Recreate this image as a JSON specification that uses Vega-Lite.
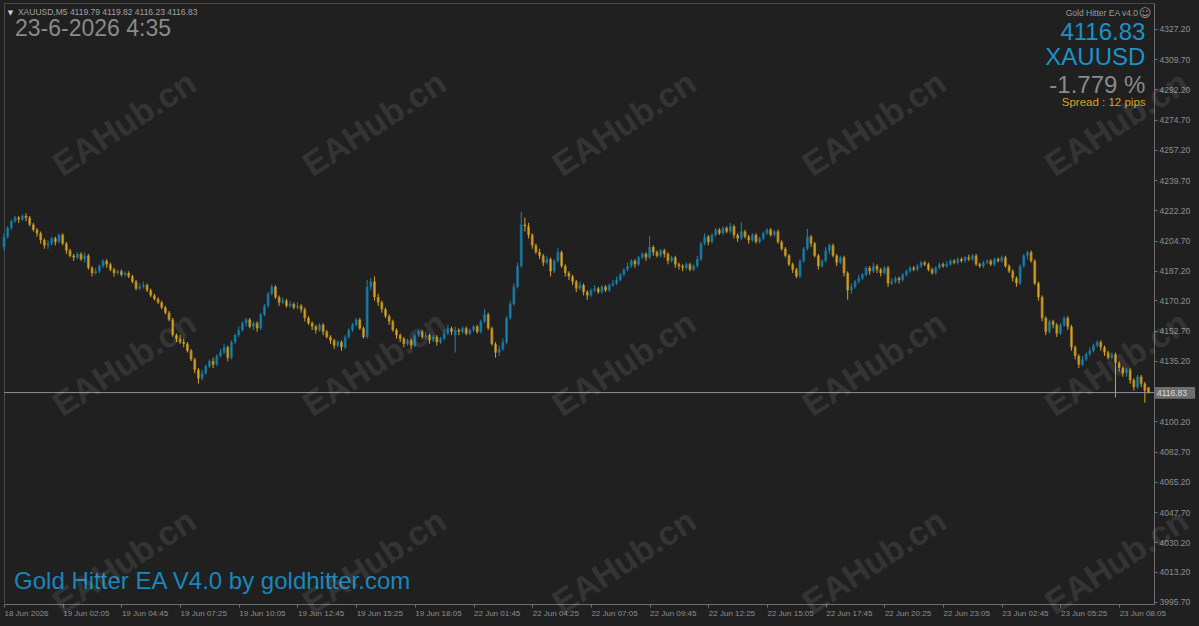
{
"$schema":"https://vega.github.io/schema/vega-lite/v6.json",
"width":1150,"height":601,
"autosize":{"type":"none"},
"padding":{"left":4,"top":3,"right":45,"bottom":22},
"background":"#202020",
"config":{"view":{"stroke":"#4a4a4a","fill":"#202020"},"font":"Liberation Sans","text":{"font":"Liberation Sans"},"axis":{"labelOverlap":false,"labelBound":false},"scale":{"continuousPadding":0}},
"data":{"values":[
{"i":0,"o":4201,"h":4209,"l":4199,"c":4207},{"i":2,"o":4207,"h":4213,"l":4206,"c":4212},{"i":4,"o":4212,"h":4217,"l":4211,"c":4216},{"i":6,"o":4216,"h":4219,"l":4215,"c":4218},{"i":8,"o":4218,"h":4219,"l":4215,"c":4217},{"i":10,"o":4217,"h":4220,"l":4216,"c":4219},{"i":12,"o":4219,"h":4220.5,"l":4216,"c":4218},{"i":14,"o":4218,"h":4219,"l":4213,"c":4214},{"i":16,"o":4214,"h":4215,"l":4210,"c":4211},{"i":18,"o":4211,"h":4212,"l":4207,"c":4209},
{"i":20,"o":4209,"h":4210,"l":4203,"c":4205},{"i":22,"o":4205,"h":4206,"l":4200,"c":4202},{"i":24,"o":4202,"h":4205,"l":4200,"c":4203},{"i":26,"o":4203,"h":4207,"l":4202,"c":4206},{"i":28,"o":4206,"h":4207,"l":4202,"c":4204},{"i":30,"o":4204,"h":4209,"l":4203,"c":4208},{"i":32,"o":4208,"h":4209,"l":4202,"c":4203},{"i":34,"o":4203,"h":4204,"l":4197,"c":4199},{"i":36,"o":4199,"h":4200,"l":4195,"c":4196},{"i":38,"o":4196,"h":4197,"l":4193,"c":4195},
{"i":40,"o":4195,"h":4198,"l":4194,"c":4197},{"i":42,"o":4197,"h":4198,"l":4193,"c":4194},{"i":44,"o":4194,"h":4198,"l":4192,"c":4196},{"i":46,"o":4196,"h":4197,"l":4188,"c":4189},{"i":48,"o":4189,"h":4190,"l":4184,"c":4186},{"i":50,"o":4186,"h":4189,"l":4185,"c":4187},{"i":52,"o":4187,"h":4191,"l":4186,"c":4190},{"i":54,"o":4190,"h":4194,"l":4189,"c":4193},{"i":56,"o":4193,"h":4194,"l":4189,"c":4191},{"i":58,"o":4191,"h":4192,"l":4187,"c":4188},
{"i":60,"o":4188,"h":4189,"l":4184,"c":4186},{"i":62,"o":4186,"h":4188,"l":4185,"c":4187},{"i":64,"o":4187,"h":4188,"l":4184,"c":4185},{"i":66,"o":4185,"h":4187,"l":4184,"c":4186},{"i":68,"o":4186,"h":4187,"l":4183,"c":4184},{"i":70,"o":4184,"h":4185,"l":4180,"c":4181},{"i":72,"o":4181,"h":4182,"l":4176,"c":4177},{"i":74,"o":4177,"h":4180,"l":4176,"c":4178},{"i":76,"o":4178,"h":4181,"l":4177,"c":4179},{"i":78,"o":4179,"h":4180,"l":4175,"c":4176},
{"i":80,"o":4176,"h":4177,"l":4172,"c":4173},{"i":82,"o":4173,"h":4174,"l":4170,"c":4171},{"i":84,"o":4171,"h":4172,"l":4168,"c":4169},{"i":86,"o":4169,"h":4170,"l":4165,"c":4166},{"i":88,"o":4166,"h":4167,"l":4162,"c":4163},{"i":90,"o":4163,"h":4164,"l":4158,"c":4159},{"i":92,"o":4159,"h":4160,"l":4149,"c":4150},{"i":94,"o":4150,"h":4151,"l":4146,"c":4148},{"i":96,"o":4148,"h":4150,"l":4145,"c":4146},{"i":98,"o":4146,"h":4148,"l":4143,"c":4145},
{"i":100,"o":4145,"h":4146,"l":4140,"c":4141},{"i":102,"o":4141,"h":4142,"l":4135,"c":4136},{"i":104,"o":4136,"h":4137,"l":4128,"c":4130},{"i":106,"o":4130,"h":4131,"l":4122,"c":4125},{"i":108,"o":4125,"h":4130,"l":4124,"c":4128},{"i":110,"o":4128,"h":4133,"l":4127,"c":4132},{"i":112,"o":4132,"h":4136,"l":4131,"c":4135},{"i":114,"o":4135,"h":4137,"l":4131,"c":4133},{"i":116,"o":4133,"h":4139,"l":4132,"c":4138},{"i":118,"o":4138,"h":4142,"l":4137,"c":4140},
{"i":120,"o":4140,"h":4145,"l":4139,"c":4143},{"i":122,"o":4143,"h":4144,"l":4135,"c":4137},{"i":124,"o":4137,"h":4147,"l":4136,"c":4146},{"i":126,"o":4146,"h":4151,"l":4145,"c":4150},{"i":128,"o":4150,"h":4155,"l":4149,"c":4153},{"i":130,"o":4153,"h":4158,"l":4152,"c":4157},{"i":132,"o":4157,"h":4160,"l":4155,"c":4159},{"i":134,"o":4159,"h":4160,"l":4154,"c":4155},{"i":136,"o":4155,"h":4158,"l":4153,"c":4157},{"i":138,"o":4157,"h":4158,"l":4152,"c":4154},
{"i":140,"o":4154,"h":4163,"l":4153,"c":4162},{"i":142,"o":4162,"h":4168,"l":4161,"c":4167},{"i":144,"o":4167,"h":4175,"l":4166,"c":4174},{"i":146,"o":4174,"h":4179.5,"l":4173,"c":4178},{"i":148,"o":4178,"h":4179,"l":4171,"c":4172},{"i":150,"o":4172,"h":4173,"l":4167,"c":4169},{"i":152,"o":4169,"h":4172,"l":4168,"c":4170},{"i":154,"o":4170,"h":4171,"l":4166,"c":4167},{"i":156,"o":4167,"h":4170,"l":4166,"c":4168},{"i":158,"o":4168,"h":4169,"l":4165,"c":4166},
{"i":160,"o":4166,"h":4169,"l":4165,"c":4167},{"i":162,"o":4167,"h":4168,"l":4163,"c":4165},{"i":164,"o":4165,"h":4166,"l":4158,"c":4160},{"i":166,"o":4160,"h":4161,"l":4156,"c":4157},{"i":168,"o":4157,"h":4158,"l":4153,"c":4155},{"i":170,"o":4155,"h":4156,"l":4151,"c":4153},{"i":172,"o":4153,"h":4157,"l":4152,"c":4156},{"i":174,"o":4156,"h":4157,"l":4150,"c":4152},{"i":176,"o":4152,"h":4153,"l":4148,"c":4149},{"i":178,"o":4149,"h":4150,"l":4145,"c":4147},
{"i":180,"o":4147,"h":4148,"l":4142,"c":4144},{"i":182,"o":4144,"h":4147,"l":4143,"c":4146},{"i":184,"o":4146,"h":4147,"l":4141,"c":4143},{"i":186,"o":4143,"h":4150,"l":4142,"c":4149},{"i":188,"o":4149,"h":4154,"l":4148,"c":4153},{"i":190,"o":4153,"h":4157,"l":4152,"c":4156},{"i":192,"o":4156,"h":4160,"l":4155,"c":4159},{"i":194,"o":4159,"h":4160,"l":4153,"c":4154},{"i":196,"o":4154,"h":4155,"l":4148,"c":4149},{"i":198,"o":4149,"h":4182,"l":4148,"c":4178},
{"i":200,"o":4178,"h":4183,"l":4176,"c":4181},{"i":202,"o":4181,"h":4184,"l":4170,"c":4172},{"i":204,"o":4172,"h":4174,"l":4167,"c":4169},{"i":206,"o":4169,"h":4170,"l":4163,"c":4165},{"i":208,"o":4165,"h":4166,"l":4160,"c":4161},{"i":210,"o":4161,"h":4162,"l":4156,"c":4158},{"i":212,"o":4158,"h":4159,"l":4152,"c":4153},{"i":214,"o":4153,"h":4154,"l":4148,"c":4150},{"i":216,"o":4150,"h":4151,"l":4146,"c":4148},{"i":218,"o":4148,"h":4149,"l":4143,"c":4145},
{"i":220,"o":4145,"h":4148,"l":4144,"c":4147},{"i":222,"o":4147,"h":4148,"l":4142,"c":4144},{"i":224,"o":4144,"h":4151,"l":4143,"c":4150},{"i":226,"o":4150,"h":4153,"l":4149,"c":4152},{"i":228,"o":4152,"h":4153,"l":4148,"c":4149},{"i":230,"o":4149,"h":4152,"l":4148,"c":4150},{"i":232,"o":4150,"h":4151,"l":4145,"c":4147},{"i":234,"o":4147,"h":4150,"l":4146,"c":4149},{"i":236,"o":4149,"h":4150,"l":4144,"c":4146},{"i":238,"o":4146,"h":4149,"l":4145,"c":4148},
{"i":240,"o":4148,"h":4153,"l":4147,"c":4151},{"i":242,"o":4151,"h":4156,"l":4150,"c":4154},{"i":244,"o":4154,"h":4155,"l":4150,"c":4152},{"i":246,"o":4150,"h":4155,"l":4140,"c":4153},{"i":248,"o":4153,"h":4154,"l":4150,"c":4152},{"i":250,"o":4152,"h":4155,"l":4151,"c":4154},{"i":252,"o":4154,"h":4155,"l":4150,"c":4151},{"i":254,"o":4151,"h":4154,"l":4150,"c":4153},{"i":256,"o":4153,"h":4156,"l":4152,"c":4155},{"i":258,"o":4155,"h":4156,"l":4151,"c":4152},
{"i":260,"o":4152,"h":4159,"l":4151,"c":4158},{"i":262,"o":4158,"h":4165,"l":4157,"c":4162},{"i":264,"o":4162,"h":4163,"l":4153,"c":4154},{"i":266,"o":4154,"h":4155,"l":4144,"c":4145},{"i":268,"o":4145,"h":4146,"l":4137,"c":4140},{"i":270,"o":4140,"h":4144,"l":4138,"c":4142},{"i":272,"o":4142,"h":4148,"l":4141,"c":4146},{"i":274,"o":4146,"h":4161,"l":4145,"c":4160},{"i":276,"o":4160,"h":4170,"l":4159,"c":4168},{"i":278,"o":4168,"h":4180,"l":4167,"c":4178},
{"i":280,"o":4178,"h":4192,"l":4177,"c":4190},{"i":282,"o":4190,"h":4221.5,"l":4189,"c":4214},{"i":284,"o":4214,"h":4218,"l":4210,"c":4213},{"i":286,"o":4213,"h":4215,"l":4206,"c":4208},{"i":288,"o":4208,"h":4209,"l":4200,"c":4202},{"i":290,"o":4202,"h":4203,"l":4197,"c":4198},{"i":292,"o":4198,"h":4200,"l":4194,"c":4196},{"i":294,"o":4196,"h":4197,"l":4190,"c":4192},{"i":296,"o":4192,"h":4196,"l":4191,"c":4194},{"i":298,"o":4194,"h":4195,"l":4184,"c":4187},
{"i":300,"o":4187,"h":4194,"l":4186,"c":4193},{"i":302,"o":4193,"h":4200.5,"l":4192,"c":4198},{"i":304,"o":4198,"h":4199,"l":4189,"c":4190},{"i":306,"o":4190,"h":4191,"l":4184,"c":4186},{"i":308,"o":4186,"h":4187,"l":4182,"c":4184},{"i":310,"o":4184,"h":4185,"l":4179,"c":4181},{"i":312,"o":4181,"h":4182,"l":4175,"c":4177},{"i":314,"o":4177,"h":4181,"l":4176,"c":4179},{"i":316,"o":4179,"h":4180,"l":4173,"c":4175},{"i":318,"o":4175,"h":4176,"l":4170.5,"c":4173},
{"i":320,"o":4173,"h":4177,"l":4172,"c":4176},{"i":322,"o":4176,"h":4179,"l":4175,"c":4177},{"i":324,"o":4177,"h":4178,"l":4174,"c":4175},{"i":326,"o":4175,"h":4179,"l":4174,"c":4178},{"i":328,"o":4178,"h":4179,"l":4175,"c":4176},{"i":330,"o":4176,"h":4180,"l":4175,"c":4179},{"i":332,"o":4179,"h":4182,"l":4178,"c":4180},{"i":334,"o":4180,"h":4184,"l":4179,"c":4182},{"i":336,"o":4182,"h":4186,"l":4181,"c":4185},{"i":338,"o":4185,"h":4189,"l":4184,"c":4188},
{"i":340,"o":4188,"h":4192,"l":4187,"c":4190},{"i":342,"o":4190,"h":4194,"l":4189,"c":4193},{"i":344,"o":4193,"h":4194,"l":4189,"c":4191},{"i":346,"o":4191,"h":4196,"l":4190,"c":4195},{"i":348,"o":4195,"h":4198,"l":4194,"c":4197},{"i":350,"o":4197,"h":4198,"l":4193,"c":4195},{"i":352,"o":4195,"h":4207.5,"l":4194,"c":4201},{"i":354,"o":4201,"h":4202,"l":4196,"c":4198},{"i":356,"o":4198,"h":4199,"l":4195,"c":4196},{"i":358,"o":4196,"h":4200,"l":4195,"c":4199},
{"i":360,"o":4199,"h":4200,"l":4195,"c":4197},{"i":362,"o":4197,"h":4198,"l":4191,"c":4193},{"i":364,"o":4193,"h":4196,"l":4192,"c":4195},{"i":366,"o":4195,"h":4196,"l":4189,"c":4191},{"i":368,"o":4191,"h":4192,"l":4188,"c":4190},{"i":370,"o":4190,"h":4191,"l":4187,"c":4189},{"i":372,"o":4189,"h":4192,"l":4188,"c":4191},{"i":374,"o":4191,"h":4192,"l":4187,"c":4188},{"i":376,"o":4188,"h":4191,"l":4187,"c":4190},{"i":378,"o":4190,"h":4196,"l":4189,"c":4194},
{"i":380,"o":4194,"h":4204,"l":4193,"c":4203},{"i":382,"o":4203,"h":4209,"l":4202,"c":4207},{"i":384,"o":4207,"h":4208,"l":4202,"c":4204},{"i":386,"o":4204,"h":4209,"l":4203,"c":4208},{"i":388,"o":4208,"h":4212,"l":4207,"c":4211},{"i":390,"o":4211,"h":4212,"l":4208,"c":4209},{"i":392,"o":4209,"h":4213,"l":4208,"c":4212},{"i":394,"o":4212,"h":4213,"l":4209,"c":4210},{"i":396,"o":4210,"h":4215,"l":4209,"c":4213},{"i":398,"o":4213,"h":4214,"l":4206,"c":4208},
{"i":400,"o":4208,"h":4209,"l":4204,"c":4206},{"i":402,"o":4206,"h":4215.5,"l":4205,"c":4210},{"i":404,"o":4210,"h":4211,"l":4206,"c":4207},{"i":406,"o":4207,"h":4208,"l":4203,"c":4205},{"i":408,"o":4205,"h":4209,"l":4204,"c":4208},{"i":410,"o":4208,"h":4209,"l":4203,"c":4204},{"i":412,"o":4204,"h":4207,"l":4203,"c":4206},{"i":414,"o":4206,"h":4210,"l":4205,"c":4209},{"i":416,"o":4209,"h":4212,"l":4208,"c":4211},{"i":418,"o":4211,"h":4212,"l":4207,"c":4208},
{"i":420,"o":4208,"h":4211,"l":4207,"c":4210},{"i":422,"o":4210,"h":4211,"l":4203,"c":4204},{"i":424,"o":4204,"h":4205,"l":4199,"c":4200},{"i":426,"o":4200,"h":4201,"l":4195,"c":4196},{"i":428,"o":4196,"h":4197,"l":4190,"c":4191},{"i":430,"o":4191,"h":4192,"l":4186,"c":4188},{"i":432,"o":4188,"h":4189,"l":4183,"c":4184},{"i":434,"o":4184,"h":4194,"l":4183,"c":4193},{"i":436,"o":4193,"h":4201,"l":4192,"c":4200},{"i":438,"o":4200,"h":4211.5,"l":4199,"c":4207},
{"i":440,"o":4207,"h":4208,"l":4201,"c":4203},{"i":442,"o":4203,"h":4204,"l":4195,"c":4196},{"i":444,"o":4196,"h":4197,"l":4188,"c":4190},{"i":446,"o":4190,"h":4194,"l":4189,"c":4193},{"i":448,"o":4193,"h":4201,"l":4192,"c":4199},{"i":450,"o":4199,"h":4203,"l":4197,"c":4202},{"i":452,"o":4202,"h":4203,"l":4195,"c":4196},{"i":454,"o":4196,"h":4197,"l":4190,"c":4192},{"i":456,"o":4192,"h":4196,"l":4191,"c":4195},{"i":458,"o":4195,"h":4196,"l":4184,"c":4186},
{"i":460,"o":4186,"h":4187,"l":4170.5,"c":4176},{"i":462,"o":4176,"h":4180,"l":4174,"c":4178},{"i":464,"o":4178,"h":4182,"l":4177,"c":4181},{"i":466,"o":4181,"h":4185,"l":4180,"c":4183},{"i":468,"o":4183,"h":4186,"l":4182,"c":4185},{"i":470,"o":4185,"h":4190,"l":4184,"c":4189},{"i":472,"o":4189,"h":4190,"l":4185,"c":4187},{"i":474,"o":4187,"h":4192,"l":4186,"c":4190},{"i":476,"o":4190,"h":4191,"l":4186,"c":4188},{"i":478,"o":4188,"h":4189,"l":4184,"c":4186},
{"i":480,"o":4186,"h":4190,"l":4185,"c":4189},{"i":482,"o":4189,"h":4190,"l":4178,"c":4180},{"i":484,"o":4180,"h":4183,"l":4179,"c":4181},{"i":486,"o":4181,"h":4184,"l":4180,"c":4183},{"i":488,"o":4183,"h":4184,"l":4180,"c":4182},{"i":490,"o":4182,"h":4186,"l":4181,"c":4185},{"i":492,"o":4185,"h":4188,"l":4184,"c":4187},{"i":494,"o":4187,"h":4190,"l":4186,"c":4189},{"i":496,"o":4189,"h":4190,"l":4187,"c":4188},{"i":498,"o":4188,"h":4191,"l":4187,"c":4190},
{"i":500,"o":4190,"h":4193,"l":4189,"c":4192},{"i":502,"o":4192,"h":4193,"l":4190,"c":4191},{"i":504,"o":4191,"h":4192,"l":4187,"c":4188},{"i":506,"o":4188,"h":4189,"l":4185,"c":4186},{"i":508,"o":4186,"h":4190,"l":4185,"c":4189},{"i":510,"o":4189,"h":4192,"l":4188,"c":4191},{"i":512,"o":4191,"h":4192,"l":4189,"c":4190},{"i":514,"o":4190,"h":4193,"l":4189,"c":4191},{"i":516,"o":4191,"h":4194,"l":4190,"c":4193},{"i":518,"o":4193,"h":4194,"l":4191,"c":4192},
{"i":520,"o":4192,"h":4195,"l":4191,"c":4194},{"i":522,"o":4194,"h":4195,"l":4192,"c":4193},{"i":524,"o":4193,"h":4196,"l":4192,"c":4195},{"i":526,"o":4195,"h":4196.5,"l":4193,"c":4194},{"i":528,"o":4194,"h":4197,"l":4193,"c":4196},{"i":530,"o":4196,"h":4197,"l":4190,"c":4191},{"i":532,"o":4191,"h":4192,"l":4189,"c":4190},{"i":534,"o":4190,"h":4193,"l":4189,"c":4192},{"i":536,"o":4192,"h":4194,"l":4191,"c":4193},{"i":538,"o":4193,"h":4194,"l":4190,"c":4191},
{"i":540,"o":4191,"h":4195,"l":4190,"c":4194},{"i":542,"o":4194,"h":4195,"l":4192,"c":4193},{"i":544,"o":4193,"h":4196,"l":4192,"c":4195},{"i":546,"o":4195,"h":4196,"l":4189,"c":4190},{"i":548,"o":4190,"h":4191,"l":4186,"c":4187},{"i":550,"o":4187,"h":4188,"l":4181,"c":4183},{"i":552,"o":4183,"h":4184,"l":4178,"c":4180},{"i":554,"o":4180,"h":4191,"l":4179,"c":4190},{"i":556,"o":4190,"h":4197,"l":4189,"c":4196},{"i":558,"o":4196,"h":4199,"l":4194,"c":4198},
{"i":560,"o":4198,"h":4199,"l":4192,"c":4193},{"i":562,"o":4193,"h":4194,"l":4179,"c":4180},{"i":564,"o":4180,"h":4181,"l":4170,"c":4172},{"i":566,"o":4172,"h":4173,"l":4158,"c":4160},{"i":568,"o":4160,"h":4161,"l":4150,"c":4152},{"i":570,"o":4152,"h":4159,"l":4151,"c":4158},{"i":572,"o":4158,"h":4159,"l":4154,"c":4156},{"i":574,"o":4156,"h":4157,"l":4149,"c":4151},{"i":576,"o":4151,"h":4157,"l":4150,"c":4156},{"i":578,"o":4156,"h":4161,"l":4155,"c":4160},
{"i":580,"o":4160,"h":4161,"l":4153,"c":4155},{"i":582,"o":4155,"h":4156,"l":4141,"c":4143},{"i":584,"o":4143,"h":4144,"l":4136,"c":4138},{"i":586,"o":4138,"h":4139,"l":4131,"c":4133},{"i":588,"o":4133,"h":4138,"l":4132,"c":4136},{"i":590,"o":4136,"h":4140,"l":4135,"c":4139},{"i":592,"o":4139,"h":4143,"l":4138,"c":4141},{"i":594,"o":4141,"h":4145,"l":4140,"c":4144},{"i":596,"o":4144,"h":4147,"l":4143,"c":4146},{"i":598,"o":4146,"h":4147,"l":4141,"c":4143},
{"i":600,"o":4143,"h":4144,"l":4138,"c":4140},{"i":602,"o":4140,"h":4141,"l":4136,"c":4137},{"i":604,"o":4137,"h":4140,"l":4136,"c":4139},{"i":606,"o":4139,"h":4140,"l":4114,"c":4134},{"i":608,"o":4134,"h":4135,"l":4129,"c":4131},{"i":610,"o":4131,"h":4132,"l":4126,"c":4128},{"i":612,"o":4128,"h":4131,"l":4126,"c":4130},{"i":614,"o":4130,"h":4131,"l":4122,"c":4124},{"i":616,"o":4124,"h":4125,"l":4118,"c":4120},{"i":618,"o":4120,"h":4127,"l":4119,"c":4126},
{"i":620,"o":4126,"h":4127,"l":4120,"c":4122},{"i":622,"o":4122,"h":4123,"l":4111,"c":4118},{"i":624,"o":4119.79,"h":4119.82,"l":4116.23,"c":4116.83}
]},
"layer":[
{"mark":{"type":"rule","strokeWidth":1},
 "encoding":{
  "x":{"field":"i","type":"quantitative","scale":{"domain":[0,627],"nice":false,"zero":false,"padding":0},
   "axis":{"title":null,"tickCount":60,"values":[0,32,64,96,128,160,192,224,256,288,320,352,384,416,448,480,512,544,576,608],
    "labelExpr":"['18 Jun 2026','19 Jun 02:05','19 Jun 04:45','19 Jun 07:25','19 Jun 10:05','19 Jun 12:45','19 Jun 15:25','19 Jun 18:05','22 Jun 01:45','22 Jun 04:25','22 Jun 07:05','22 Jun 09:45','22 Jun 12:25','22 Jun 15:05','22 Jun 17:45','22 Jun 20:25','22 Jun 23:05','23 Jun 02:45','23 Jun 05:25','23 Jun 08:05'][round(datum.value/32)]",
    "labelAlign":"left","labelFlush":false,"labelOverlap":false,"grid":false,"tickSize":3,"labelPadding":2,
    "domainColor":"#6e6e6e","tickColor":"#6e6e6e","labelColor":"#8e8e8e","labelFontSize":8,"labelFont":"Liberation Sans"}},
  "y":{"field":"l","type":"quantitative","scale":{"domain":[3994.5,4342.2],"nice":false,"zero":false,"padding":0},
   "axis":{"title":null,"orient":"right","tickCount":60,"values":[4327.2,4309.7,4292.2,4274.7,4257.2,4239.7,4222.2,4204.7,4187.2,4170.2,4152.7,4135.2,4100.2,4082.7,4065.2,4047.7,4030.2,4013.2,3995.7],
    "format":".2f","grid":false,"tickSize":3,"labelPadding":2,"domainColor":"#6e6e6e","tickColor":"#6e6e6e","labelColor":"#8e8e8e","labelFontSize":8.5,"labelFont":"Liberation Sans","labelOverlap":false}},
  "y2":{"field":"h"},
  "color":{"condition":{"test":"datum.c >= datum.o","value":"#1585b3"},"value":"#dba41f"}
 }},
{"mark":{"type":"bar","width":2.8,"opacity":0.7},
 "encoding":{
  "x":{"field":"i","type":"quantitative"},
  "y":{"field":"o","type":"quantitative"},
  "y2":{"field":"c"},
  "color":{"condition":{"test":"datum.c >= datum.o","value":"#1585b3"},"value":"#dba41f"}
 }},
{"data":{"values":[{}]},"mark":{"type":"rule","color":"#8a8f96","strokeWidth":1},
 "encoding":{"y":{"datum":4116.83}}},
{"data":{"values":[{}]},"mark":{"type":"rect","color":"#6f6f6f"},
 "encoding":{"x":{"datum":627.6},"x2":{"datum":649.4},"y":{"datum":4113.2},"y2":{"datum":4120.1}}},
{"data":{"values":[{}]},"mark":{"type":"text","text":"4116.83","align":"left","baseline":"middle","fontSize":8.5,"color":"#dcdcdc"},
 "encoding":{"x":{"datum":628.6},"y":{"datum":4116.7}}},
{"data":{"values":[{}]},"mark":{"type":"text","text":"▼","align":"center","baseline":"alphabetic","fontSize":7,"color":"#d0d0d0","font":"DejaVu Sans"},
 "encoding":{"x":{"datum":3.5},"y":{"datum":4335.5}}},
{"data":{"values":[{}]},"mark":{"type":"text","text":"XAUUSD,M5  4119.79 4119.82 4116.23 4116.83","align":"left","baseline":"alphabetic","fontSize":8.5,"color":"#a0a0a0"},
 "encoding":{"x":{"datum":7.6},"y":{"datum":4335.3}}},
{"data":{"values":[{}]},"mark":{"type":"text","text":"23-6-2026 4:35","align":"left","baseline":"alphabetic","fontSize":23,"color":"#8a8a8a"},
 "encoding":{"x":{"datum":6.0},"y":{"datum":4323.2}}},
{"data":{"values":[{}]},"mark":{"type":"text","text":"Gold Hitter EA  v4.0","align":"right","baseline":"alphabetic","fontSize":8.5,"color":"#9a9a9a"},
 "encoding":{"x":{"datum":618.3},"y":{"datum":4334.7}}},
{"data":{"values":[{}]},"mark":{"type":"text","text":"☺","align":"center","baseline":"middle","fontSize":12,"color":"#9a9a9a","font":"DejaVu Sans"},
 "encoding":{"x":{"datum":622.1},"y":{"datum":4336.5}}},
{"data":{"values":[{}]},"mark":{"type":"text","text":"4116.83","align":"right","baseline":"alphabetic","fontSize":24,"color":"#1b92c9"},
 "encoding":{"x":{"datum":622.3},"y":{"datum":4320.9}}},
{"data":{"values":[{}]},"mark":{"type":"text","text":"XAUUSD","align":"right","baseline":"alphabetic","fontSize":24,"color":"#1b92c9"},
 "encoding":{"x":{"datum":622.3},"y":{"datum":4306.4}}},
{"data":{"values":[{}]},"mark":{"type":"text","text":"-1.779 %","align":"right","baseline":"alphabetic","fontSize":24,"color":"#8a8a8a"},
 "encoding":{"x":{"datum":622.3},"y":{"datum":4290.2}}},
{"data":{"values":[{}]},"mark":{"type":"text","text":"Spread : 12 pips","align":"right","baseline":"alphabetic","fontSize":11.5,"color":"#d4a62a"},
 "encoding":{"x":{"datum":622.4},"y":{"datum":4282.7}}},
{"data":{"values":[{}]},"mark":{"type":"text","text":"Gold Hitter EA V4.0 by goldhitter.com","align":"left","baseline":"alphabetic","fontSize":24,"color":"#1a86bb"},
 "encoding":{"x":{"datum":5.5},"y":{"datum":4003.3}}},
{"data":{"values":[
 {"wx":66,"wy":4271.7},{"wx":202.3,"wy":4271.7},{"wx":338.6,"wy":4271.7},{"wx":474.9,"wy":4271.7},{"wx":607,"wy":4271.7},
 {"wx":66,"wy":4132.8},{"wx":202.3,"wy":4132.8},{"wx":338.6,"wy":4132.8},{"wx":474.9,"wy":4132.8},{"wx":607,"wy":4132.8},
 {"wx":66,"wy":4018.3},{"wx":202.3,"wy":4018.3},{"wx":338.6,"wy":4018.3},{"wx":474.9,"wy":4018.3},{"wx":607,"wy":4018.3}]},
 "mark":{"type":"text","text":"EAHub.cn","align":"center","baseline":"middle","fontSize":34,"fontWeight":"bold","angle":-33,"color":"#ffffff","opacity":0.09},
 "encoding":{"x":{"field":"wx","type":"quantitative"},"y":{"field":"wy","type":"quantitative"}}}
]
}
